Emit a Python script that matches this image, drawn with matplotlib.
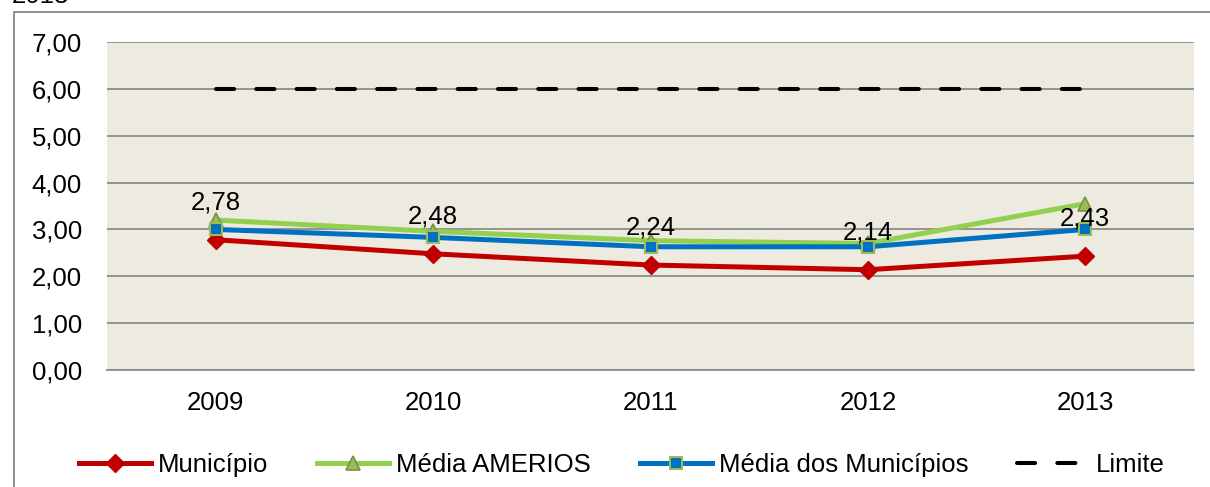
import matplotlib
matplotlib.use("Agg")
import matplotlib.pyplot as plt
from matplotlib.patches import Rectangle

plt.rcParams['font.family'] = ['Liberation Sans', 'DejaVu Sans']

years = ['2009', '2010', '2011', '2012', '2013']
municipio = [2.78, 2.48, 2.24, 2.14, 2.43]
media_amerios = [3.20, 2.96, 2.76, 2.70, 3.55]
media_municipios = [3.00, 2.83, 2.63, 2.63, 3.00]
limite = [6.00, 6.00, 6.00, 6.00, 6.00]
yticks = [0, 1, 2, 3, 4, 5, 6, 7]

FS = 18.5
W, H = 1210, 487
fig = plt.figure(figsize=(W / 100, H / 100), dpi=100)
ax = fig.add_axes([107 / W, 1 - 370 / H, (1194 - 107) / W, (370 - 42) / H])

# outer chart frame (partially visible)
fig.patches.append(Rectangle((14 / W, -0.2), 2.0, 1.2 - 12 / H, transform=fig.transFigure,
                             fill=False, edgecolor='#878787', linewidth=1.3))
fig.text(12 / W, 1 - 3 / H, '2013', fontsize=FS, va='baseline', ha='left', color='black')

ax.set_facecolor('#EDEAE0')
x = list(range(len(years)))

ax.plot(x, municipio, color='#C00000', lw=3.6, marker='D', markersize=9.5,
        markerfacecolor='#C00000', markeredgecolor='#C00000', label='Município', zorder=3)
ax.plot(x, media_amerios, color='#92D050', lw=3.6, marker='^', markersize=10.5,
        markerfacecolor='#9BBB59', markeredgecolor='#77933C', markeredgewidth=1.2,
        label='Média AMERIOS', zorder=4)
ax.plot(x, media_municipios, color='#0070C0', lw=3.6, marker='s', markersize=9,
        markerfacecolor='#0070C0', markeredgecolor='#9BBB59', markeredgewidth=1.5,
        label='Média dos Municípios', zorder=5)
ax.plot(x, limite, color='black', lw=2.9, dashes=(4.5, 5.5), dash_capstyle='round',
        label='Limite', zorder=5)

for xi, v in zip(x, municipio):
    ax.annotate(f'{v:.2f}'.replace('.', ','), (xi, v), xytext=(0, 27), textcoords='offset points',
                ha='center', va='center', fontsize=FS, color='black', zorder=7)

ax.set_xlim(-0.5, len(years) - 0.5)
ax.set_ylim(0, 7)
ax.set_yticks(yticks)
ax.set_yticklabels([f'{t:.2f}'.replace('.', ',') for t in yticks])
ax.set_xticks(x)
ax.set_xticklabels(years)
ax.tick_params(axis='both', length=0, labelsize=FS)
ax.tick_params(axis='y', pad=18)
ax.tick_params(axis='x', pad=15)
ax.grid(axis='y', color='#8C8C8C', lw=1.3)
ax.set_axisbelow(True)
for s in ['left', 'right', 'top']:
    ax.spines[s].set_visible(False)
ax.spines['bottom'].set_color('#8C8C8C')
ax.spines['bottom'].set_linewidth(1.3)

fig.legend(loc='center', bbox_to_anchor=(622 / W, 1 - 465 / H), ncol=4, frameon=False,
           fontsize=FS, handlelength=2.8, handletextpad=0.27, columnspacing=1.9,
           borderpad=0, borderaxespad=0)

fig.savefig('out.png', dpi=100)
